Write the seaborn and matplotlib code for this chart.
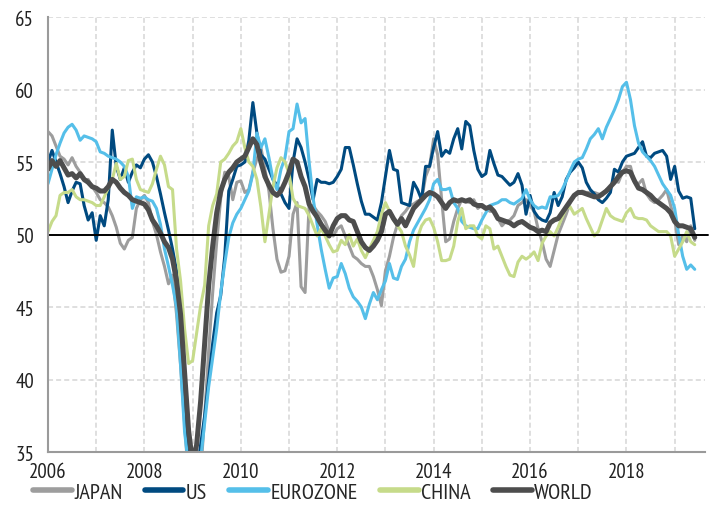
import numpy as np
import pandas as pd
import matplotlib
matplotlib.use("Agg")
import matplotlib.pyplot as plt
from matplotlib.lines import Line2D
import seaborn as sns

# monthly PMI readings, Jan 2006 - Jun 2019
months = pd.date_range("2006-01-01", "2019-06-01", freq="MS")

japan = [57.1, 56.8, 56.1, 55.4, 55.2, 54.8, 55.3, 54.7, 54.3, 53.7, 53.8, 53.3,
         52.9, 52.4, 52.2, 51.9, 51.3, 50.5, 49.4, 49.0, 49.6, 49.8, 51.8, 52.4,
         52.7, 52.2, 50.9, 50.0, 48.8, 47.8, 46.6, 47.2, 44.5, 41.0, 37.0, 33.0,
         30.0, 30.5, 33.5, 37.5, 42.0, 46.0, 49.5, 52.5, 54.3, 54.0, 52.4, 53.6,
         53.7, 52.9, 53.1, 54.3, 55.2, 56.0, 54.5, 53.0, 50.4, 48.3, 47.4, 47.5,
         48.5, 51.4, 52.2, 46.4, 46.0, 52.0, 52.0, 51.6, 51.3, 50.9, 50.2, 49.9,
         50.4, 50.6, 49.9, 49.2, 48.5, 48.3, 48.0, 47.8, 47.8, 47.1, 46.2, 45.1,
         47.5, 48.5, 49.8, 50.7, 51.3, 51.6, 52.0, 52.1, 52.3, 52.4, 54.0, 54.7,
         56.6, 55.5, 52.4, 49.5, 49.7, 50.9, 51.8, 52.4, 52.3, 52.2, 52.4, 51.8,
         52.0, 51.8, 51.6, 51.6, 51.1, 50.6, 50.9, 51.0, 51.3, 52.0, 52.2, 52.4,
         52.0, 51.6, 50.4, 49.5, 48.3, 47.8, 48.9, 50.0, 50.7, 51.4, 52.2, 52.7,
         52.9, 53.0, 52.9, 52.9, 52.9, 52.8, 52.7, 53.1, 53.2, 53.8, 53.6, 54.3,
         54.7, 54.7, 53.6, 53.5, 53.8, 52.8, 52.4, 52.2, 52.4, 52.7, 53.1, 52.0,
         51.0, 49.3, 49.9, 49.5, 50.6, 49.6]

us = [55.0, 55.8, 55.0, 54.2, 53.3, 52.2, 53.0, 53.6, 53.5, 52.0, 51.0, 51.5,
      49.6, 51.3, 50.6, 52.4, 57.2, 54.7, 53.8, 54.6, 53.6, 54.3, 54.8, 54.6,
      55.2, 55.5, 55.0, 54.0, 52.8, 51.5, 50.3, 49.0, 47.5, 43.5, 38.0, 34.0,
      33.0, 33.5, 35.5, 37.5, 40.0, 42.5, 44.6, 45.8, 48.5, 53.0, 53.8, 54.7,
      54.8, 55.0, 56.5, 59.1, 57.0, 55.5, 55.2, 54.5, 53.8, 53.4, 52.8, 52.2,
      51.8, 55.0, 56.6, 56.0, 55.0, 53.8, 52.4, 53.8, 53.6, 53.6, 53.5, 53.6,
      54.0, 54.5, 56.0, 56.0, 54.8, 53.5, 52.3, 51.4, 51.4, 51.2, 51.0, 52.2,
      54.0, 55.8, 54.5, 54.4, 52.2, 52.1, 52.0, 53.6, 53.1, 52.4, 54.7, 54.7,
      56.0, 57.1, 55.4, 55.8, 55.6, 56.6, 57.3, 55.9, 57.8, 57.5, 55.8, 54.5,
      54.0, 54.2, 55.8, 54.9, 54.1, 54.0, 53.7, 53.4, 53.6, 54.2, 53.4, 51.4,
      52.7, 51.6, 51.2, 51.0, 50.9, 51.5, 52.9, 52.0, 52.6, 53.8, 54.3, 54.6,
      55.0, 54.6, 53.6, 53.1, 52.8, 52.4, 52.2, 52.5, 52.9, 54.5, 54.3, 55.0,
      55.4, 55.5, 55.6, 56.0, 56.4, 55.4, 55.3, 55.6, 55.7, 55.8, 55.4, 53.8,
      54.7, 53.0, 52.5, 52.6, 52.5, 50.4]

eurozone = [53.5, 54.5, 55.5, 56.3, 57.0, 57.4, 57.6, 57.2, 56.5, 56.8, 56.7, 56.6,
            56.4, 55.7, 55.6, 55.4, 55.3, 55.2, 55.0, 54.7, 54.0, 51.8, 52.6, 52.5,
            52.6, 52.4, 52.3, 51.8, 50.7, 49.0, 47.8, 46.5, 45.0, 41.0, 36.4, 34.0,
            33.5, 33.5, 34.5, 37.0, 39.5, 41.5, 43.5, 46.0, 48.0, 49.8, 50.8, 51.4,
            51.8, 52.4, 53.0, 54.2, 57.0, 56.0, 56.6, 55.3, 53.8, 53.1, 54.5, 55.3,
            57.1, 57.3, 59.0, 57.7, 58.0, 55.0, 52.5, 50.7, 49.0, 47.6, 46.3, 47.0,
            47.1, 48.0, 47.3, 46.3, 45.7, 45.4, 45.0, 44.2, 45.2, 46.0, 45.5, 46.2,
            46.8, 48.0, 47.0, 46.9, 47.8, 48.3, 49.5, 50.3, 50.8, 51.3, 51.8, 52.4,
            53.5, 53.8, 53.1, 53.1, 53.2, 52.2, 51.8, 50.9, 50.6, 50.5, 50.4, 50.4,
            51.0, 51.5, 52.0, 52.1, 52.2, 52.4, 52.4, 52.2, 52.1, 52.3, 52.5, 53.1,
            52.4, 52.0, 51.8, 51.9, 51.8, 52.6, 52.6, 52.7, 53.1, 53.7, 54.4, 55.0,
            55.2, 55.3, 55.9, 56.6, 56.9, 57.3, 56.6, 57.4, 58.0, 58.6, 59.3, 60.2,
            60.5, 59.3, 57.5, 56.3, 55.7, 55.4, 55.1, 54.7, 54.1, 53.5, 53.1, 52.7,
            51.8, 50.0, 48.5, 47.6, 47.9, 47.6]

china = [50.2, 50.9, 51.3, 52.7, 52.9, 52.9, 53.1, 52.6, 52.4, 52.4, 52.3, 52.2,
         52.0, 52.0, 52.6, 53.2, 53.8, 54.9, 53.8, 54.0, 55.1, 55.2, 53.8, 53.1,
         53.0, 52.9, 53.5, 54.5, 55.4, 54.8, 53.3, 53.1, 49.0, 46.8, 43.5, 41.1,
         41.3, 43.2, 45.1, 46.5, 50.6, 52.0, 52.8, 55.0, 55.2, 55.6, 56.1, 56.4,
         57.3, 56.0, 55.0, 54.7, 53.8, 51.9, 49.5, 51.4, 53.3, 54.6, 55.3, 55.0,
         54.2, 52.5, 52.0, 51.9, 51.8, 51.3, 50.6, 49.9, 50.4, 49.9, 49.3, 48.8,
         48.9, 49.6, 49.3, 50.0, 49.2, 49.7, 48.9, 48.4, 49.0, 49.6, 50.2, 51.4,
         52.2, 51.6, 51.0, 50.6, 50.2, 49.2, 48.6, 47.8, 49.8, 50.6, 51.0, 51.1,
         50.5, 49.5, 48.2, 48.2, 48.3, 49.2, 50.9, 51.8, 50.4, 50.6, 50.6, 49.9,
         49.7, 50.6, 50.4, 49.0, 49.2, 48.5, 47.8, 47.2, 47.1, 48.1, 48.5, 48.3,
         48.5, 48.8, 48.2, 49.4, 49.9, 50.2, 49.9, 50.5, 51.2, 51.8, 51.9, 51.4,
         51.6, 51.8, 51.1, 50.5, 49.9, 50.2, 51.0, 51.8, 51.3, 51.1, 51.0, 50.9,
         51.5, 51.8, 51.2, 51.1, 51.1, 51.0, 50.6, 50.4, 50.2, 50.2, 50.2, 49.9,
         48.5, 49.0, 49.5, 50.2, 49.5, 49.3]

world = [54.5, 55.1, 54.7, 55.1, 54.6, 54.1, 54.2, 53.9, 54.2, 53.8, 53.6, 53.3,
         53.2, 53.0, 53.0, 53.3, 53.8, 53.6, 53.2, 52.9, 52.7, 52.4, 52.3, 52.2,
         52.1, 51.7, 51.0, 50.6, 50.1, 49.5, 49.1, 48.3, 46.8, 44.5, 40.5, 36.5,
         34.2, 35.5, 38.5, 42.5, 46.5, 49.2, 51.5, 53.0, 53.8, 54.3, 54.6, 55.0,
         55.2, 55.4, 56.0, 56.6, 56.2, 55.0, 54.0, 53.4, 52.9, 52.7, 53.0, 53.6,
         54.3, 55.2, 55.0, 54.0, 53.3, 52.1, 51.6, 51.2, 50.7, 50.3, 49.9, 50.6,
         51.1, 51.3, 51.3, 51.0, 50.9, 50.2, 49.5, 49.1, 48.9, 49.2, 49.6, 50.2,
         51.4, 51.6, 51.1, 50.7, 51.1, 50.6, 51.2, 51.8, 52.1, 52.4, 52.7, 52.9,
         52.8, 52.6, 52.2, 51.8, 52.2, 52.4, 52.3, 52.4, 52.3, 52.4, 52.1, 52.0,
         52.0, 51.8, 51.9, 51.6, 51.1, 51.0, 50.9, 50.8, 50.6, 50.8, 50.9, 50.7,
         50.5, 50.4, 50.2, 50.3, 50.2, 50.8, 51.0, 51.1, 51.5, 51.9, 52.3, 52.7,
         52.9, 52.9, 52.8, 52.7, 52.6, 52.6, 52.8, 53.0, 53.3, 53.6, 54.0, 54.3,
         54.4, 54.3, 53.7, 53.2, 53.1, 52.9, 52.7, 52.4, 52.2, 52.0, 51.8, 51.5,
         50.9, 50.6, 50.6, 50.5, 50.4, 49.8]

regions = ["JAPAN", "US", "EUROZONE", "CHINA", "WORLD"]
colors = {"JAPAN": "#9d9d9d", "US": "#004a80", "EUROZONE": "#55bfe9",
          "CHINA": "#c6db8a", "WORLD": "#4d4d4d"}
year_ticks = list(range(2006, 2020))

sns.set_style("white")
plt.rcParams["font.family"] = ["PT Sans Narrow", "DejaVu Sans"]

t = months.year + (months.month - 1) / 12
df = pd.DataFrame({"date": t, "JAPAN": japan, "US": us, "EUROZONE": eurozone,
                   "CHINA": china, "WORLD": world})
long = df.melt(id_vars="date", var_name="region", value_name="pmi")

fig, ax = plt.subplots(figsize=(7.11, 5.06), dpi=100)
fig.subplots_adjust(left=0.0675, right=0.9916, bottom=0.1047, top=0.9644)

for r in regions:
    lw = 3.6 if r == "WORLD" else 2.2
    sns.lineplot(data=long[long.region == r], x="date", y="pmi", color=colors[r],
                 lw=lw, ax=ax, legend=False, zorder=3)

ax.axhline(50, color="black", lw=1.4, zorder=4, xmax=1.004, clip_on=False)

ax.set_xlim(2006, 2019.63)
ax.set_ylim(35, 65)
ax.set_xticks(year_ticks)
ax.set_xticklabels([str(y) if y % 2 == 0 and y < 2019 else "" for y in year_ticks])
ax.set_yticks(range(35, 70, 5))
ax.set_xlabel("")
ax.set_ylabel("")

ax.grid(True, color="#d6d6d6", lw=1.1, linestyle=(0, (3.3, 2)))
ax.set_axisbelow(True)
for s in ["top", "right"]:
    ax.spines[s].set_visible(False)
for s in ["left", "bottom"]:
    ax.spines[s].set_color("#9a9a9a")
    ax.spines[s].set_linewidth(1.5)
    ax.spines[s].set_zorder(5)

ax.tick_params(axis="both", labelsize=15, colors="#9a9a9a", labelcolor="#222222",
               direction="out", length=4, width=1.2)
ax.tick_params(axis="y", pad=6)
ax.tick_params(axis="x", pad=3)

# legend below the plot, one row
handles = [Line2D([0], [0], color=colors[r], lw=4) for r in regions]
fig.legend(handles, regions, loc="center left", bbox_to_anchor=(33 / 711, 1 - 493 / 506),
           ncol=5, frameon=False, fontsize=16, handlelength=1.75, handletextpad=0.1,
           columnspacing=1.0, borderpad=0, borderaxespad=0)

fig.savefig("out.png", dpi=100)
